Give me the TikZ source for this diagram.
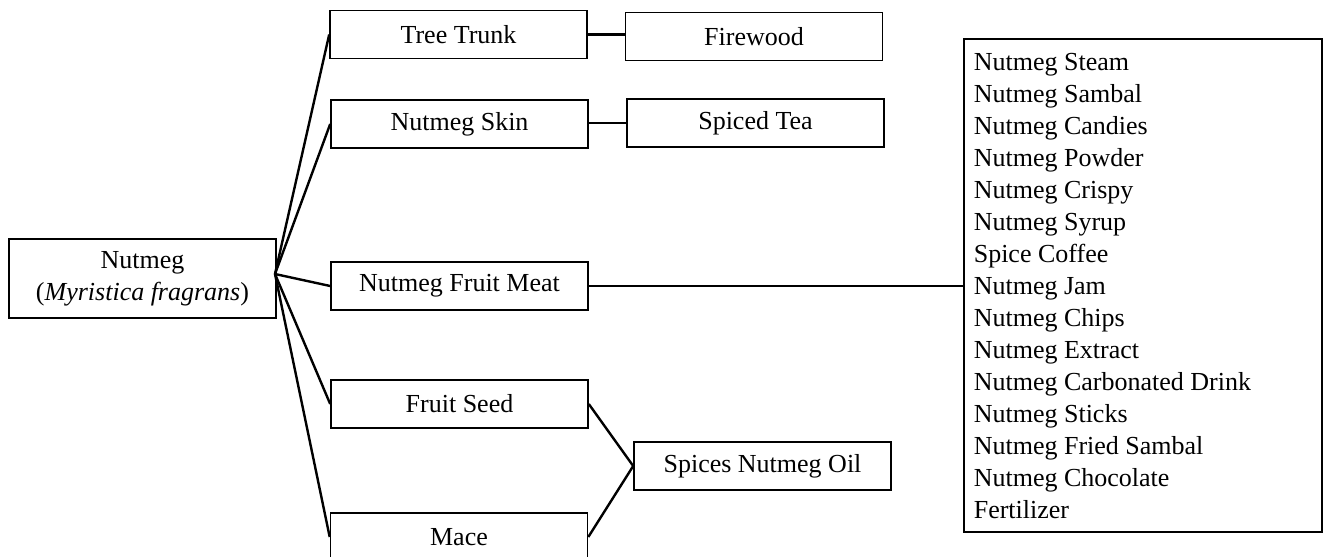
\documentclass[tikz,border=0pt]{standalone}
\usepackage{fontspec}
\setmainfont{Liberation Serif}
\usetikzlibrary{positioning}
\tikzset{
    box/.style={draw, line width=0.8pt, minimum width=128.5pt, minimum height=24pt,
        inner sep=2pt, align=center},
    link/.style={line width=1.2pt}
}

\begin{document}
\begin{tikzpicture}[x=0.5pt, y=-0.5pt, every node/.style={font=\fontsize{13}{16}\selectfont}]
    % keep the page size of the figure
    \useasboundingbox (0,0) rectangle (1323,557);
    % the plant
    \node[box, minimum width=133.5pt, minimum height=39.5pt] (nut) at (142.5,278.5)
        {Nutmeg\\(\textit{Myristica fragrans})};
    \coordinate (hub) at (275,274);
    % parts of the plant
    \node[box] (trunk) at (458.5,34.5) {Tree Trunk};
    \node[box] (skin)  at (459.5,124)  {Nutmeg Skin};
    \node[box] (meat)  at (459.5,286)  {Nutmeg Fruit Meat};
    \node[box] (seed)  at (459.5,404)  {Fruit Seed};
    \node[box] (mace)  at (459,537)    {Mace};
    % products
    \node[box] (fire)  at (754,36.5)   {Firewood};
    \node[box] (tea)   at (755.5,123)  {Spiced Tea};
    \node[box] (oil)   at (762.5,466)  {Spices Nutmeg Oil};
    \node[draw, line width=0.8pt, anchor=north west, text width=169pt, inner xsep=5pt,
        inner ysep=7pt, align=flush left] (list) at (963,38)
        {Nutmeg Steam\\Nutmeg Sambal\\Nutmeg Candies\\Nutmeg Powder\\Nutmeg Crispy\\
         Nutmeg Syrup\\Spice Coffee\\Nutmeg Jam\\Nutmeg Chips\\Nutmeg Extract\\
         Nutmeg Carbonated Drink\\Nutmeg Sticks\\Nutmeg Fried Sambal\\
         Nutmeg Chocolate\\Fertilizer};
    % draw the links
    \foreach \n in {trunk,skin,meat,seed,mace} \draw[link] (hub) -- (\n.west);
    \draw[link] (trunk.east) -- (trunk.east -| fire.west);
    \draw[link] (tea.west -| skin.east) -- (tea.west);
    \draw[link] (meat.east) -- (meat.east -| list.west);
    \draw[link] (seed.east) -- (oil.west) -- (mace.east);
\end{tikzpicture}
\end{document}
